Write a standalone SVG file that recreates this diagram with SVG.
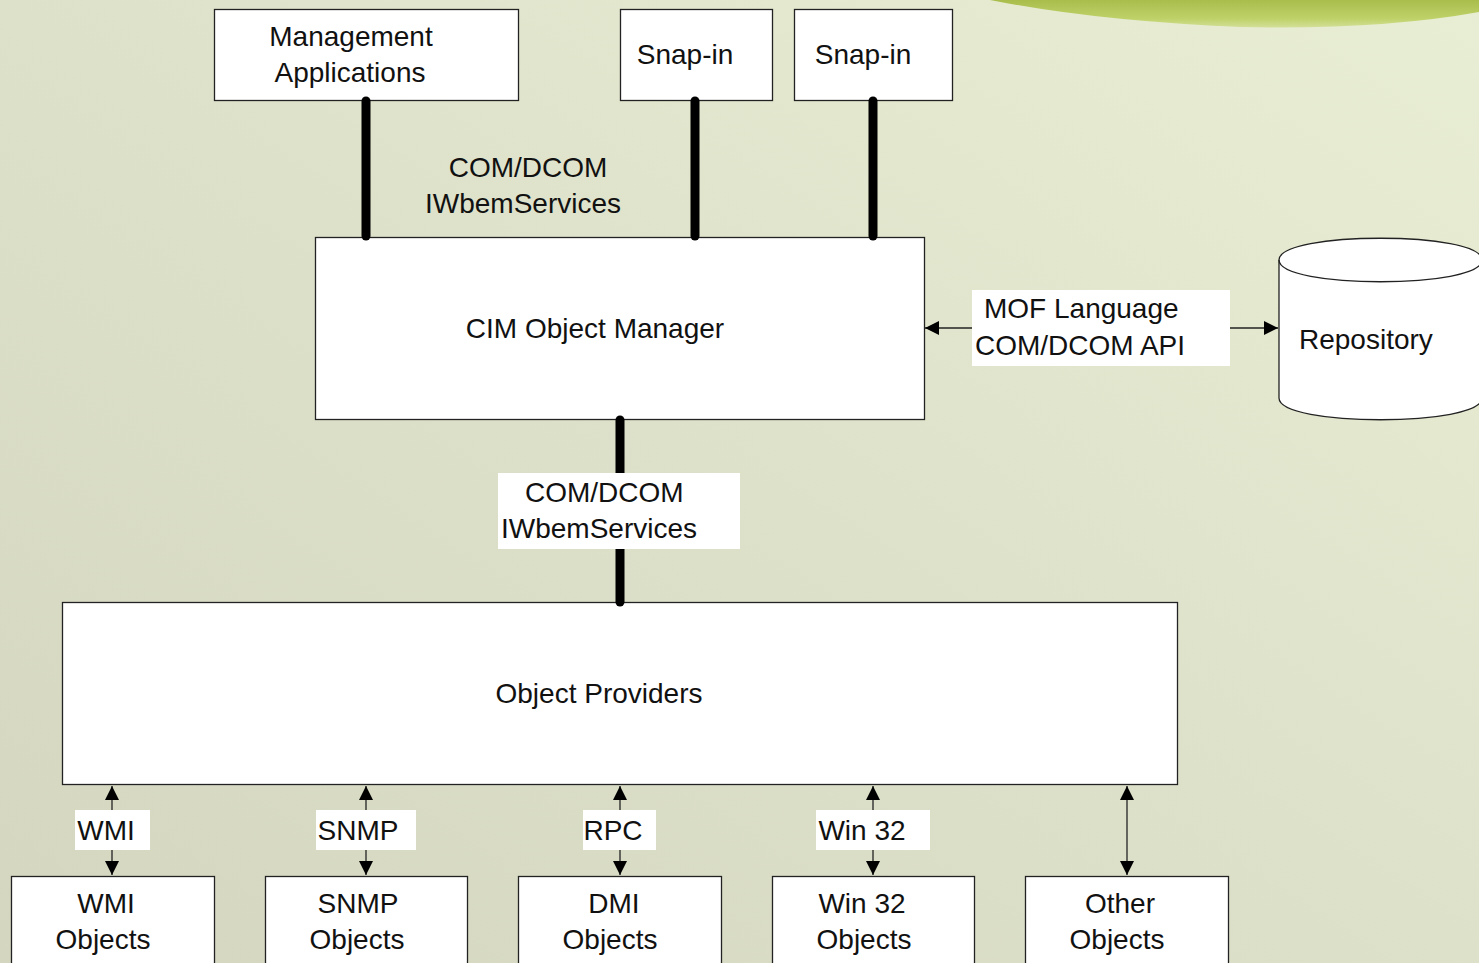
<svg xmlns="http://www.w3.org/2000/svg" width="1479" height="963" viewBox="0 0 1479 963">
  <defs>
    <linearGradient id="bg" x1="0" y1="1" x2="1" y2="0">
      <stop offset="0" stop-color="#d4d6c0"/>
      <stop offset="0.5" stop-color="#dee1ca"/>
      <stop offset="1" stop-color="#e8eed3"/>
    </linearGradient>
    <linearGradient id="swoosh" x1="0" y1="0" x2="0" y2="1">
      <stop offset="0" stop-color="#a9bd4c"/>
      <stop offset="0.7" stop-color="#bfd26a"/>
      <stop offset="1" stop-color="#d3df98"/>
    </linearGradient>
    <marker id="ah" viewBox="0 0 14 14" refX="14" refY="7" markerWidth="14" markerHeight="14" markerUnits="userSpaceOnUse" orient="auto-start-reverse">
      <path d="M0,0 L14,7 L0,14 Z" fill="#000"/>
    </marker>
    <style>
      .box { fill: #fff; stroke: #222; stroke-width: 1.3; }
      .lbl { fill: #fff; }
      .t { font-family: "Liberation Sans", Arial, sans-serif; font-size: 28px; fill: #111; }
      .c { text-anchor: middle; }
      .bus { stroke: #000; stroke-width: 9; stroke-linecap: round; fill: none; }
      .arr { stroke: #222; stroke-width: 1.3; fill: none; marker-start: url(#ah); marker-end: url(#ah); }
    </style>
  </defs>

  <!-- background -->
  <rect x="0" y="0" width="1479" height="963" fill="url(#bg)"/>
  <path d="M990,0 Q1095,21 1240,27 Q1380,30 1479,12 L1479,0 Z" fill="url(#swoosh)"/>

  <!-- nodes -->
  <g id="management-applications">
    <rect class="box" x="214.5" y="9.5" width="304" height="91"/>
    <text class="t c" x="351" y="46">Management</text>
    <text class="t c" x="350" y="82">Applications</text>
  </g>
  <g id="snap-in-1">
    <rect class="box" x="620.5" y="9.5" width="152" height="91"/>
    <text class="t c" x="685" y="64">Snap-in</text>
  </g>
  <g id="snap-in-2">
    <rect class="box" x="794.5" y="9.5" width="158" height="91"/>
    <text class="t c" x="863" y="64">Snap-in</text>
  </g>
  <g id="cim-object-manager">
    <rect class="box" x="315.5" y="237.5" width="609" height="182"/>
    <text class="t c" x="595" y="338">CIM Object Manager</text>
  </g>
  <g id="repository">
    <path class="box" d="M1279,260 C1279,231 1482,231 1482,260 L1482,398 C1482,427 1279,427 1279,398 Z"/>
    <path d="M1279,260 C1279,289 1482,289 1482,260" fill="none" stroke="#222" stroke-width="1.3"/>
    <text class="t" x="1299" y="349">Repository</text>
  </g>
  <g id="object-providers">
    <rect class="box" x="62.5" y="602.5" width="1115" height="182"/>
    <text class="t c" x="599" y="703">Object Providers</text>
  </g>
  <g id="wmi-objects">
    <rect class="box" x="11.5" y="876.5" width="203" height="100"/>
    <text class="t c" x="106" y="913">WMI</text>
    <text class="t c" x="103" y="949">Objects</text>
  </g>
  <g id="snmp-objects">
    <rect class="box" x="265.5" y="876.5" width="202" height="100"/>
    <text class="t c" x="358" y="913">SNMP</text>
    <text class="t c" x="357" y="949">Objects</text>
  </g>
  <g id="dmi-objects">
    <rect class="box" x="518.5" y="876.5" width="203" height="100"/>
    <text class="t c" x="614" y="913">DMI</text>
    <text class="t c" x="610" y="949">Objects</text>
  </g>
  <g id="win32-objects">
    <rect class="box" x="772.5" y="876.5" width="202" height="100"/>
    <text class="t c" x="862" y="913">Win 32</text>
    <text class="t c" x="864" y="949">Objects</text>
  </g>
  <g id="other-objects">
    <rect class="box" x="1025.5" y="876.5" width="203" height="100"/>
    <text class="t c" x="1120" y="913">Other</text>
    <text class="t c" x="1117" y="949">Objects</text>
  </g>

  <!-- connectors (drawn over the box edges) -->
  <g id="connectors">
    <line class="bus" x1="366" y1="101" x2="366" y2="236"/>
    <line class="bus" x1="695" y1="101" x2="695" y2="236"/>
    <line class="bus" x1="873" y1="101" x2="873" y2="236"/>
    <line class="bus" x1="620" y1="420" x2="620" y2="602"/>
    <line class="arr" x1="925" y1="328" x2="1278" y2="328"/>
    <line class="arr" x1="112" y1="786" x2="112" y2="875"/>
    <line class="arr" x1="366" y1="786" x2="366" y2="875"/>
    <line class="arr" x1="620" y1="786" x2="620" y2="875"/>
    <line class="arr" x1="873" y1="786" x2="873" y2="875"/>
    <line class="arr" x1="1127" y1="786" x2="1127" y2="875"/>
  </g>

  <!-- connector labels -->
  <g id="labels">
    <text class="t c" x="528" y="177">COM/DCOM</text>
    <text class="t c" x="523" y="213">IWbemServices</text>

    <rect class="lbl" x="498" y="473" width="242" height="76"/>
    <text class="t" x="525" y="502">COM/DCOM</text>
    <text class="t" x="501" y="538">IWbemServices</text>

    <rect class="lbl" x="972" y="290" width="258" height="76"/>
    <text class="t" x="984" y="318">MOF Language</text>
    <text class="t" x="975" y="355">COM/DCOM API</text>

    <rect class="lbl" x="75" y="810" width="75" height="40"/>
    <text class="t c" x="106" y="840">WMI</text>
    <rect class="lbl" x="316" y="810" width="100" height="40"/>
    <text class="t c" x="358" y="840">SNMP</text>
    <rect class="lbl" x="583" y="810" width="73" height="40"/>
    <text class="t c" x="613" y="840">RPC</text>
    <rect class="lbl" x="816" y="810" width="114" height="40"/>
    <text class="t c" x="862" y="840">Win 32</text>
  </g>
</svg>
